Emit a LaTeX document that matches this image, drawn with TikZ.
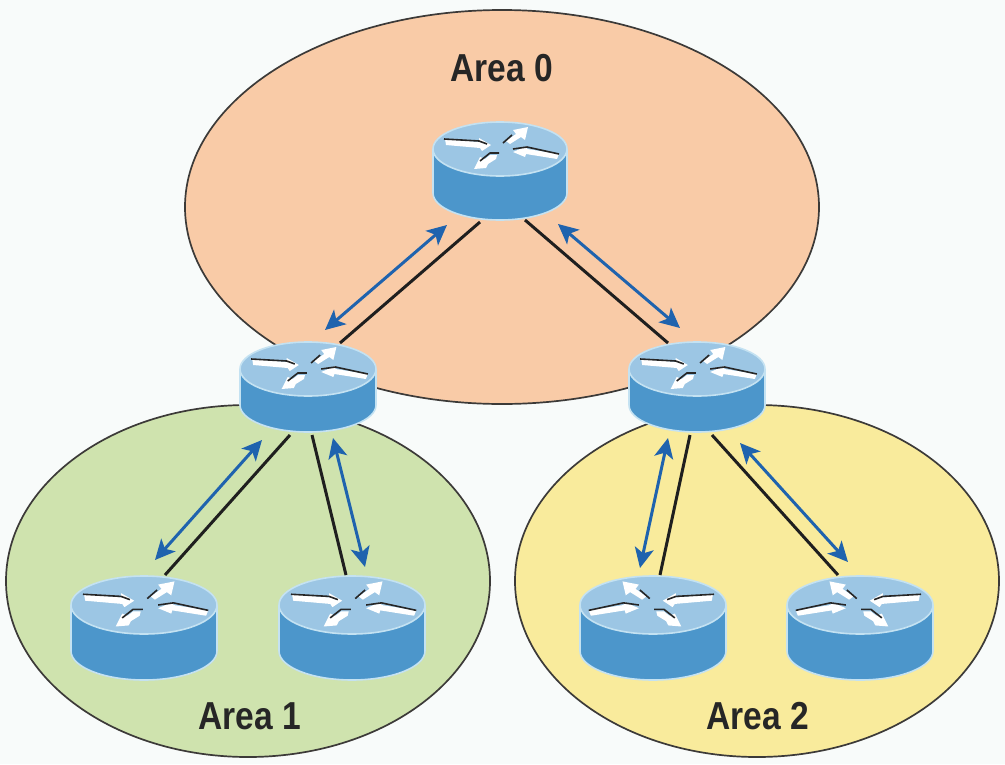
\documentclass[tikz,border=0pt]{standalone}
\usepackage{fontspec}
\newfontfamily\areafont[FakeStretch=0.86]{Liberation Sans}
\usetikzlibrary{arrows.meta,positioning}
\definecolor{pagebg}{HTML}{F8FBFA}
\definecolor{areaorange}{HTML}{F9CBA7}
\definecolor{areagreen}{HTML}{CFE3AE}
\definecolor{areayellow}{HTML}{F9EB9C}
\definecolor{arealine}{HTML}{3C3A38}
\definecolor{routertop}{HTML}{9CC6E4}
\definecolor{routerside}{HTML}{4C96CB}
\definecolor{routerrim}{HTML}{C4E2F2}
\definecolor{linkblue}{HTML}{1F63AE}
\tikzset{
  areashape/.style={draw=arealine, line width=1.7pt},
  arealabel/.style={inner sep=0pt, text=black!85, font=\areafont\bfseries\fontsize{39}{39}\selectfont},
  routerbox/.style={inner sep=0pt, outer sep=0pt},
  routerface/.style={fill=routertop, draw=routerrim, line width=1.6pt},
  routerbody/.style={fill=routerside, draw=routerrim, line width=1.6pt},
  routerarrow/.style={fill=white, draw=none},
  routeredge/.style={draw=black!85, line width=1.6pt, line join=round},
  wire/.style={draw=black!88, line width=3pt},
  flow/.style={{Stealth[length=20pt,width=19pt,inset=5pt]}-{Stealth[length=20pt,width=19pt,inset=5pt]}, line width=3pt, color=linkblue}}
% name, centre x, top y, x radius, y radius, depth, flip
\newcommand{\router}[7]{
  \node[routerbox, minimum width={2*#4*1pt}, minimum height={(2*#5+#6)*1pt}] (#1) at (#2,{#3+#5+#6/2}) {};
  \begin{scope}[shift={(#2,{#3+#5})}, xscale=#7]
    \path[routerbody] (0,#6) ellipse [x radius=#4pt, y radius=#5pt];
    \fill[routerside] (-#4,0) rectangle (#4,#6);
    \draw[routerrim, line width=1.6pt] (-#4,0) -- (-#4,#6) (#4,0) -- (#4,#6);
    \path[routerface] (0,0) ellipse [x radius=#4pt, y radius=#5pt];
    \begin{scope}[xscale=#4/67, yscale=#5/27]
      \path[routerarrow] (-55,-10) -- (-21,-7) -- (-21,-11) -- (-9,-4) -- (-18,2) -- (-20,-1) -- (-54,-4) -- cycle;
      \draw[routeredge] (-56,-10) -- (-21,-8) -- (-13,-5);
      \path[routerarrow] (6,-8) -- (16,-15) -- (13,-19) -- (28,-22) -- (25,-9) -- (21,-12) -- (10,-5) -- cycle;
      \draw[routeredge] (3,-6) -- (12,-14);
      \path[routerarrow] (59,5) -- (27,0) -- (27,-3) -- (13,3) -- (25,8) -- (26,5) -- (57,10) -- cycle;
      \draw[routeredge] (59,5) -- (27,-2) -- (13,0);
      \path[routerarrow] (-3,6) -- (-10,6) -- (-15,10) -- (-20,8) -- (-26,20) -- (-14,19) -- (-12,15) -- (-4,10) -- cycle;
      \draw[routeredge] (-1,4) -- (-10,4) -- (-20,12);
    \end{scope}
  \end{scope}}
\begin{document}
\begin{tikzpicture}[x=1pt, y=-1pt]
  \fill[pagebg] (0,0) rectangle (1005,764);
  \useasboundingbox (0,0) rectangle (1005,764);
  % areas
  \path[areashape, fill=areaorange] (502,207) ellipse [x radius=317pt, y radius=197pt];
  \path[areashape, fill=areagreen] (248,581) ellipse [x radius=242pt, y radius=176pt];
  \path[areashape, fill=areayellow] (757,581) ellipse [x radius=242pt, y radius=176pt];
  \node[arealabel] (area0) at (502,68) {Area 0};
  \node[arealabel] (area1) at (250,716) {Area 1};
  \node[arealabel] (area2) at (758,716) {Area 2};
  % routers
  \router{rzero}{500}{122}{67}{27}{44}{1}
  \router{rleft}{308}{342}{68}{27}{36}{1}
  \router{rright}{697}{342}{68}{27}{36}{1}
  \router{rla}{144}{576}{73}{29}{46}{1}
  \router{rlb}{352}{576}{73}{29}{46}{1}
  \router{rra}{653}{576}{73}{29}{46}{-1}
  \router{rrb}{860}{576}{73}{29}{46}{-1}
  % black links
  \draw[wire] ([shift={(-20,2)}]rzero.south) -- ([shift={(32,1)}]rleft.north);
  \draw[wire] ([shift={(25,0)}]rzero.south) -- ([shift={(-29,1)}]rright.north);
  \draw[wire] ([shift={(-18,3)}]rleft.south) -- ([shift={(21,-1)}]rla.north);
  \draw[wire] ([shift={(4,3)}]rleft.south) -- ([shift={(-6,-1)}]rlb.north);
  \draw[wire] ([shift={(-7,3)}]rright.south) -- ([shift={(7,-1)}]rra.north);
  \draw[wire] ([shift={(15,3)}]rright.south) -- ([shift={(-22,-1)}]rrb.north);
  % blue arrows
  \draw[flow] ([shift={(-53,5)}]rzero.south) -- ([shift={(17,-12)}]rleft.north);
  \draw[flow] ([shift={(58,4)}]rzero.south) -- ([shift={(-17,-14)}]rright.north);
  \draw[flow] ([shift={(-46,8)}]rleft.south) -- ([shift={(11,-16)}]rla.north);
  \draw[flow] ([shift={(25,6)}]rleft.south) -- ([shift={(13,-9)}]rlb.north);
  \draw[flow] ([shift={(-29,6)}]rright.south) -- ([shift={(-13,-8)}]rra.north);
  \draw[flow] ([shift={(43,11)}]rright.south) -- ([shift={(-12,-14)}]rrb.north);
\end{tikzpicture}
\end{document}
